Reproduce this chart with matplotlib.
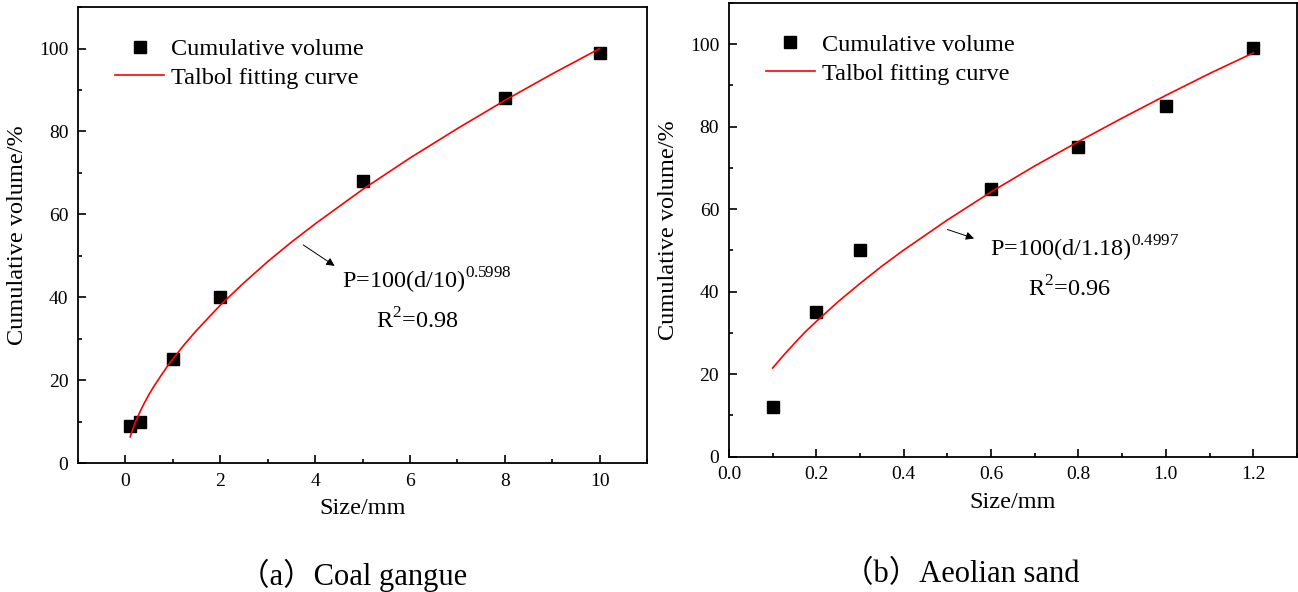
import matplotlib
matplotlib.use("Agg")
from matplotlib import pyplot as plt
from matplotlib.ticker import MultipleLocator

plt.rcParams['font.family'] = ['Liberation Serif', 'Noto Sans CJK SC']
plt.rcParams['mathtext.fontset'] = 'custom'
plt.rcParams['mathtext.rm'] = 'Liberation Serif'

# coal gangue
coal_size = [0.1, 0.3, 1, 2, 5, 8, 10]
coal_volume = [9, 10, 25, 40, 68, 88, 99]
coal_fit_x = [0.1, 0.15, 0.2, 0.3, 0.4, 0.5, 0.6, 0.75, 0.9, 1, 1.25, 1.5, 2, 2.5, 3,
              3.5, 4, 5, 6, 7, 8, 9, 10]
coal_fit_y = [6.3, 8.0, 9.6, 12.2, 14.5, 16.6, 18.5, 21.1, 23.6, 25.1, 28.7, 32.0, 38.1,
              43.5, 48.6, 53.3, 57.7, 66.0, 73.6, 80.7, 87.5, 93.9, 100.0]

# aeolian sand
sand_size = [0.1, 0.2, 0.3, 0.6, 0.8, 1.0, 1.2]
sand_volume = [12, 35, 50, 65, 75, 85, 99]
sand_fit_x = [0.1, 0.125, 0.15, 0.175, 0.2, 0.25, 0.3, 0.35, 0.4, 0.5, 0.6, 0.7,
              0.8, 0.9, 1.0, 1.1, 1.2]
sand_fit_y = [21.5, 24.6, 27.5, 30.3, 32.8, 37.6, 42.0, 46.2, 50.1, 57.4, 64.2, 70.5,
              76.4, 82.1, 87.6, 92.9, 97.9]

fig = plt.figure(figsize=(12.98, 5.92), dpi=100)
ax1 = fig.add_axes([0.0601, 0.2179, 0.4384, 0.770])
ax2 = fig.add_axes([0.5616, 0.2285, 0.4376, 0.7665])

panels = [
    (ax1, coal_size, coal_volume, coal_fit_x, coal_fit_y, (-1, 11), 2, 1),
    (ax2, sand_size, sand_volume, sand_fit_x, sand_fit_y, (0, 1.3), 0.2, 0.1),
]

for ax, x, y, fx, fy, xlim, xmaj, xmin in panels:
    ax.plot(x, y, 's', color='black', markersize=8.5, linestyle='none', label='Cumulative volume')
    ax.plot(fx, fy, color='red', linewidth=1.2, label='Talbol fitting curve')
    ax.set_xlim(*xlim)
    ax.set_ylim(0, 110)
    ax.xaxis.set_major_locator(MultipleLocator(xmaj))
    ax.xaxis.set_minor_locator(MultipleLocator(xmin))
    ax.yaxis.set_major_locator(MultipleLocator(20))
    ax.yaxis.set_minor_locator(MultipleLocator(10))
    ax.tick_params(which='both', direction='in', top=False, right=False, labelsize=14, width=1.2)
    ax.tick_params(which='major', length=6, pad=7)
    ax.tick_params(which='minor', length=3)
    for s in ax.spines.values():
        s.set_linewidth(1.3)
    ax.set_xlabel('Size/mm', fontsize=17.5, labelpad=6)
    ax.set_ylabel('Cumulative volume/%', fontsize=17.5, labelpad=8)
    ax.legend(loc='upper left', bbox_to_anchor=(0.027, 0.98), frameon=False, fontsize=17.5,
              handlelength=2.0, handletextpad=0.3, labelspacing=0.28)

ax1.xaxis.set_major_formatter(matplotlib.ticker.FormatStrFormatter('%d'))

ax1.annotate('', xy=(4.46, 47.2), xytext=(3.7, 53),
             arrowprops=dict(arrowstyle='-|>', color='black', lw=0.7, mutation_scale=12))
ax1.text(4.57, 44, r'P=100(d/10)$^{0.5998}$', fontsize=17.5, va='center', ha='left')
ax1.text(6.15, 34.4, r'R$^{2}$=0.98', fontsize=17.5, va='center', ha='center')

ax2.annotate('', xy=(0.567, 52.7), xytext=(0.494, 55.3),
             arrowprops=dict(arrowstyle='-|>', color='black', lw=0.7, mutation_scale=12))
ax2.text(0.597, 50.5, r'P=100(d/1.18)$^{0.4997}$', fontsize=17.5, va='center', ha='left')
ax2.text(0.78, 40.7, r'R$^{2}$=0.96', fontsize=17.5, va='center', ha='center')

fig.text(353 / 1298, 1 - 575 / 592, '（a）Coal gangue', fontsize=22, ha='center', va='center')
fig.text(961 / 1298, 1 - 575 / 592, '（b）Aeolian sand', fontsize=22, ha='center', va='center')

fig.savefig('out.png', dpi=100)
